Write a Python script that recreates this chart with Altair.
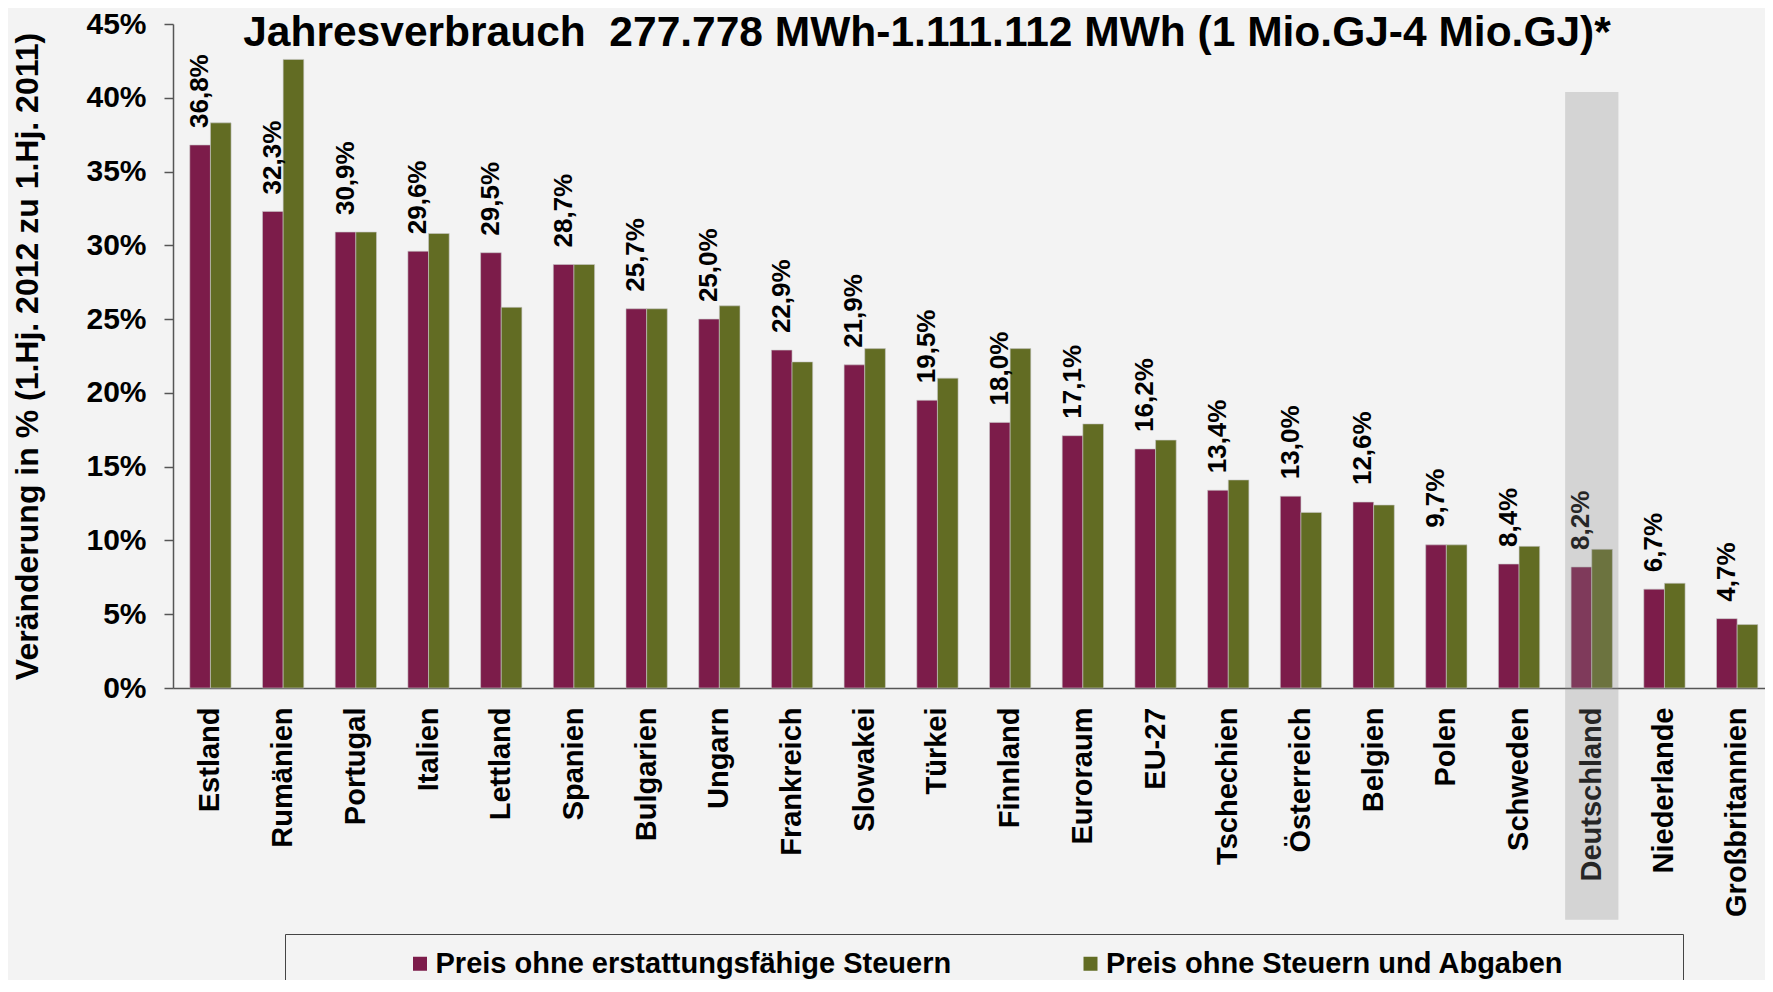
import altair as alt
import pandas as pd

# ---------------- data ----------------
countries = ["Estland", "Rumänien", "Portugal", "Italien", "Lettland", "Spanien",
             "Bulgarien", "Ungarn", "Frankreich", "Slowakei", "Türkei", "Finnland",
             "Euroraum", "EU-27", "Tschechien", "Österreich", "Belgien", "Polen",
             "Schweden", "Deutschland", "Niederlande", "Großbritannien"]
preis_ohne_erstattungsfaehige = [36.8, 32.3, 30.9, 29.6, 29.5, 28.7, 25.7, 25.0, 22.9, 21.9,
                                 19.5, 18.0, 17.1, 16.2, 13.4, 13.0, 12.6, 9.7, 8.4, 8.2,
                                 6.7, 4.7]
preis_ohne_steuern_abgaben = [38.3, 42.6, 30.9, 30.8, 25.8, 28.7, 25.7, 25.9, 22.1, 23.0,
                              21.0, 23.0, 17.9, 16.8, 14.1, 11.9, 12.4, 9.7, 9.6, 9.4,
                              7.1, 4.3]
series_names = ["Preis ohne erstattungsfähige Steuern", "Preis ohne Steuern und Abgaben"]
series_colors = ["#7C1C4A", "#626C23"]
highlight_country = ["Deutschland"]
highlight_top = [40.4]
highlight_bottom = [-15.7]
y_ticks = [0, 5, 10, 15, 20, 25, 30, 35, 40, 45]
title_text = "Jahresverbrauch\u00a0 277.778 MWh-1.111.112 MWh (1 Mio.GJ-4 Mio.GJ)*"
y_title = "Veränderung in % (1.Hj. 2012 zu 1.Hj. 2011)"

FONT = "Liberation Sans, Arial, Helvetica, sans-serif"
NARROW = "Liberation Sans Narrow, Arial Narrow, Liberation Sans, sans-serif"

rows = []
for i, land in enumerate(countries):
    for s, vals in zip(series_names, [preis_ohne_erstattungsfaehige, preis_ohne_steuern_abgaben]):
        v = vals[i]
        rows.append({"land": land, "serie": s, "wert": v,
                     "label": f"{v:.1f}".replace(".", ",") + "%"})
df = pd.DataFrame(rows)
hl_df = pd.DataFrame({"land": highlight_country, "top": highlight_top, "bottom": highlight_bottom})

# ---------------- encodings ----------------
x_enc = alt.X("land:N", sort=countries,
              scale=alt.Scale(paddingInner=0.432, paddingOuter=0.165, align=0.7),
              axis=alt.Axis(title=None, labelAngle=270, labelAlign="right",
                            labelBaseline="middle", labelPadding=19, ticks=False,
                            labelFontSize=29, labelFont=FONT, labelFontWeight="bold",
                            labelColor="black", domainColor="#555555", domainWidth=1.5,
                            labelLimit=400))
xoff_enc = alt.XOffset("serie:N", sort=series_names,
                       scale=alt.Scale(domain=series_names, paddingInner=0, paddingOuter=0))
y_scale = alt.Scale(domain=[0, 45], nice=False, zero=True)
y_enc = alt.Y("wert:Q", scale=y_scale,
              axis=alt.Axis(values=y_ticks, labelExpr="datum.value + '%'",
                            title=y_title, titleFontSize=32, titleFont=FONT,
                            titleFontWeight="bold", titleColor="black", titlePadding=41,
                            labelFontSize=30, labelFont=FONT, labelFontWeight="bold",
                            labelColor="black", labelPadding=18, tickSize=9,
                            tickColor="#555555", tickWidth=1.5, domainColor="#555555",
                            domainWidth=1.5, grid=False))

bars = alt.Chart(df).mark_bar(stroke="#C8C8C8", strokeWidth=0.6).encode(
    x=x_enc,
    xOffset=xoff_enc,
    y=y_enc,
    color=alt.Color("serie:N", sort=series_names,
                    scale=alt.Scale(domain=series_names, range=series_colors),
                    legend=alt.Legend(orient="none", legendX=112, legendY=910,
                                      direction="horizontal", columns=2,
                                      title="\u00a0", titleOrient="right", titleFontSize=10,
                                      titlePadding=104,
                                      symbolType="square", symbolSize=196,
                                      symbolStrokeWidth=0, symbolOffset=105.5,
                                      labelFontSize=29, labelFont=NARROW,
                                      labelFontWeight="bold", labelColor="black",
                                      labelLimit=1000, columnPadding=18.5,
                                      labelOffset=1, padding=15,
                                      strokeColor="#444444", fillColor="#F3F3F3")),
)

labels = alt.Chart(df).transform_filter(
    alt.datum.serie == series_names[0]
).mark_text(angle=270, align="left", baseline="middle", dx=17, fontSize=26,
            font=FONT, fontWeight="bold", color="black").encode(
    x=x_enc,
    xOffset=xoff_enc,
    y=y_enc,
    text="label:N",
)

highlight = alt.Chart(hl_df).mark_bar(width=alt.RelativeBandSize(1.29), color="#868686",
                                      opacity=0.283, clip=False).encode(
    x=x_enc,
    y=alt.Y("top:Q", scale=y_scale),
    y2="bottom:Q",
)

chart = alt.layer(bars, labels, highlight).properties(
    width=1592,
    height=664,
    autosize=alt.AutoSizeParams(type="none"),
    padding={"left": 165, "top": 16, "right": 0, "bottom": 292},
    background="#F3F3F3",
    title=alt.TitleParams(text=title_text, font=NARROW, fontSize=42.5, fontWeight="bold",
                          color="black", anchor="middle", dx=-42, dy=49),
).configure_view(stroke=None)

chart.save("out.html", embed_options={"renderer": "svg", "actions": False})
